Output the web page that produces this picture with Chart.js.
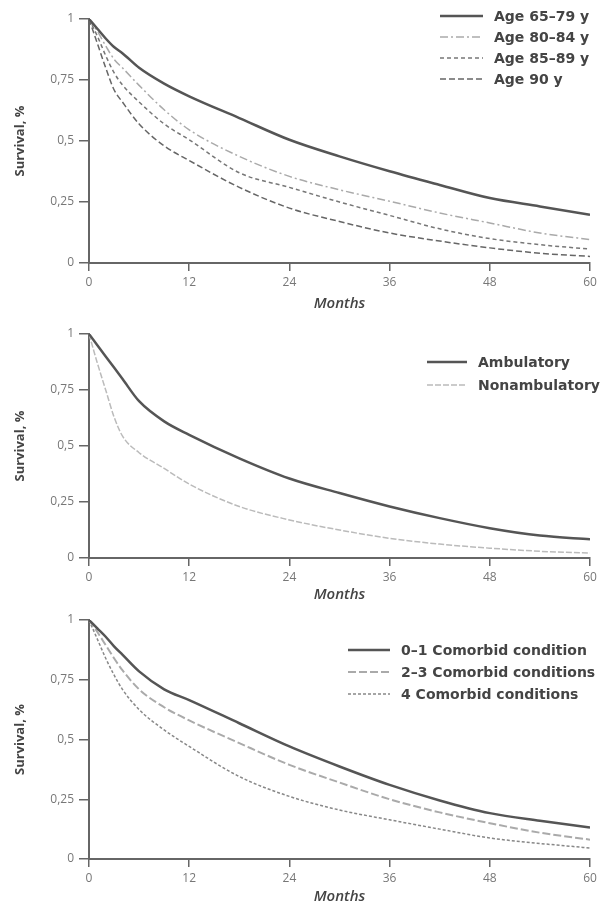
<!DOCTYPE html>
<html>
<head>
<meta charset="utf-8">
<script src="https://cdn.jsdelivr.net/npm/chart.js@4"></script>
<style>
  body { margin: 0; background: #fff; }
  .panel { position: absolute; left: 0; }
</style>
</head>
<body>
<canvas id="age-chart" class="panel" width="603" height="314" style="top:0"></canvas>
<canvas id="amb-chart" class="panel" width="603" height="291" style="top:314px"></canvas>
<canvas id="como-chart" class="panel" width="603" height="302" style="top:605px"></canvas>
<script>
const months = [0, 1, 2, 3, 4, 6, 9, 12, 18, 24, 30, 36, 42, 48, 54, 60];
const xTicks = [0, 12, 24, 36, 48, 60];
const yTicks = [0, 0.25, 0.5, 0.75, 1];

// panel 1 - age
const ageLabels = ["Age 65\u201379 y", "Age 80\u201384 y", "Age 85\u201389 y", "Age 90 y"];
const age6579 = [1, 0.96, 0.92, 0.885, 0.86, 0.8, 0.735, 0.683, 0.594, 0.505, 0.437, 0.376, 0.32, 0.266, 0.232, 0.198];
const age8084 = [1, 0.95, 0.89, 0.835, 0.8, 0.728, 0.628, 0.546, 0.437, 0.355, 0.3, 0.253, 0.205, 0.164, 0.123, 0.096];
const age8589 = [1, 0.93, 0.85, 0.78, 0.73, 0.66, 0.57, 0.505, 0.37, 0.31, 0.25, 0.195, 0.14, 0.1, 0.075, 0.057];
const age90 = [1, 0.9, 0.8, 0.71, 0.66, 0.57, 0.48, 0.42, 0.31, 0.225, 0.17, 0.123, 0.09, 0.062, 0.04, 0.027];

// panel 2 - ambulatory status
const ambLabels = ["Ambulatory", "Nonambulatory"];
const ambulatory = [1, 0.95, 0.9, 0.85, 0.8, 0.7, 0.61, 0.55, 0.445, 0.355, 0.29, 0.23, 0.178, 0.133, 0.1, 0.084];
const nonambulatory = [1, 0.87, 0.75, 0.63, 0.545, 0.47, 0.4, 0.33, 0.23, 0.17, 0.125, 0.088, 0.062, 0.044, 0.03, 0.022];

// panel 3 - comorbid conditions
const comoLabels = ["0\u20131 Comorbid condition", "2\u20133 Comorbid conditions", "4 Comorbid conditions"];
const como01 = [1, 0.965, 0.93, 0.89, 0.855, 0.785, 0.71, 0.665, 0.568, 0.471, 0.387, 0.31, 0.245, 0.192, 0.16, 0.132];
const como23 = [1, 0.95, 0.895, 0.84, 0.79, 0.71, 0.635, 0.58, 0.485, 0.394, 0.32, 0.25, 0.195, 0.15, 0.11, 0.081];
const como4 = [1, 0.92, 0.84, 0.77, 0.71, 0.625, 0.54, 0.471, 0.345, 0.262, 0.205, 0.164, 0.125, 0.088, 0.065, 0.046];

const FONT = "'Open Sans', 'DejaVu Sans', sans-serif";

function series(label, values, color, width, dash) {
  return {
    label: label,
    data: months.map((m, i) => ({ x: m, y: values[i] })),
    borderColor: color,
    borderWidth: width,
    borderDash: dash,
    pointRadius: 0,
    fill: false,
    cubicInterpolationMode: "monotone",
  };
}

// legend drawn inside the plot, top right
const insideLegend = {
  id: "insideLegend",
  afterDraw(chart, args, opts) {
    const ctx = chart.ctx;
    ctx.save();
    ctx.font = "bold 14px 'DejaVu Sans', sans-serif";
    ctx.textBaseline = "middle";
    chart.data.datasets.forEach((ds, i) => {
      const y = opts.y + i * opts.gap;
      ctx.beginPath();
      ctx.strokeStyle = ds.borderColor;
      ctx.lineWidth = ds.borderWidth;
      ctx.setLineDash(ds.borderDash || []);
      ctx.moveTo(opts.x, y);
      ctx.lineTo(opts.x + opts.len, y);
      ctx.stroke();
      ctx.setLineDash([]);
      ctx.fillStyle = "#444";
      ctx.fillText(ds.label, opts.x + opts.len + 11, y + 1);
    });
    ctx.restore();
  },
};

function makeChart(id, datasets, pad, xHeight, legend) {
  new Chart(document.getElementById(id), {
    type: "line",
    data: { datasets: datasets },
    plugins: [insideLegend],
    options: {
      responsive: false,
      animation: false,
      layout: { padding: { top: pad, right: 13, left: 0, bottom: 0 } },
      plugins: {
        legend: { display: false },
        tooltip: { enabled: false },
        insideLegend: legend,
      },
      scales: {
        x: {
          type: "linear",
          min: 0,
          max: 60,
          afterBuildTicks: (s) => { s.ticks = xTicks.map((v) => ({ value: v })); },
          afterFit: (s) => { s.height = xHeight; },
          border: { color: "#666", width: 2 },
          grid: { drawOnChartArea: false, drawTicks: true, tickLength: 8, color: "#666", lineWidth: 1.5 },
          ticks: { color: "#777", padding: 4, font: { family: FONT, size: 12 } },
          title: {
            display: true,
            text: "Months",
            color: "#444",
            padding: { top: 0, bottom: 1 },
            font: { family: FONT, size: 15, style: "italic", weight: "600" },
          },
        },
        y: {
          min: 0,
          max: 1,
          afterBuildTicks: (s) => { s.ticks = yTicks.map((v) => ({ value: v })); },
          afterFit: (s) => { s.width = 89; },
          border: { color: "#666", width: 2 },
          grid: { drawOnChartArea: false, drawTicks: true, tickLength: 10, color: "#666", lineWidth: 1.5 },
          ticks: {
            color: "#777",
            padding: 5,
            font: { family: FONT, size: 12 },
            callback: (v) => String(v).replace(".", ","),
          },
          title: {
            display: true,
            text: "Survival, %",
            color: "#444",
            padding: { top: 12, bottom: 4 },
            font: { family: FONT, size: 13, weight: "bold" },
          },
        },
      },
    },
  });
}

document.addEventListener("DOMContentLoaded", () => {
  makeChart("age-chart", [
    series(ageLabels[0], age6579, "#555", 2.5, []),
    series(ageLabels[1], age8084, "#aaa", 1.5, [8, 3, 2, 3]),
    series(ageLabels[2], age8589, "#777", 1.5, [4, 3]),
    series(ageLabels[3], age90, "#666", 1.5, [6, 3]),
  ], 19, 51, { x: 440, y: 16, gap: 21, len: 43 });

  makeChart("amb-chart", [
    series(ambLabels[0], ambulatory, "#555", 2.5, []),
    series(ambLabels[1], nonambulatory, "#bbb", 1.5, [6, 2]),
  ], 20, 47, { x: 427, y: 48, gap: 23, len: 40 });

  makeChart("como-chart", [
    series(comoLabels[0], como01, "#555", 2.5, []),
    series(comoLabels[1], como23, "#aaa", 2, [8, 3]),
    series(comoLabels[2], como4, "#888", 1.5, [3, 2]),
  ], 15, 48, { x: 348, y: 45, gap: 22, len: 42 });
});
</script>
</body>
</html>
